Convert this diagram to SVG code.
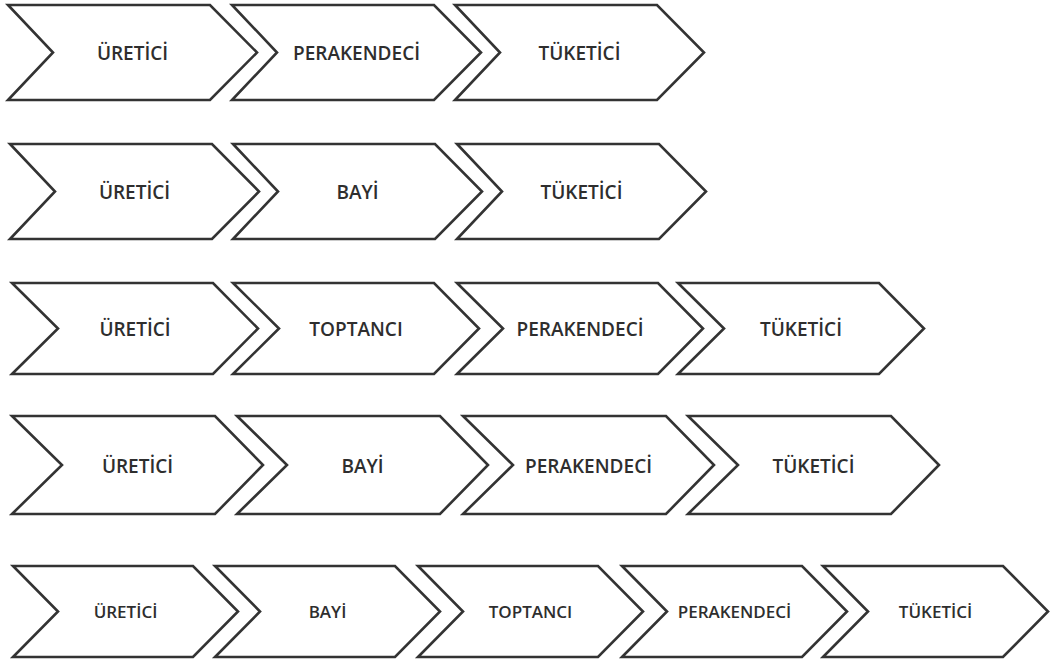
<svg xmlns="http://www.w3.org/2000/svg" width="1055" height="662" viewBox="0 0 1055 662">
<style>
.chev{fill:#fff;stroke:#333;stroke-width:2.6;stroke-linejoin:miter}
.lbl{font-family:"Open Sans","Noto Sans","Liberation Sans",sans-serif;font-weight:600;font-size:19px;fill:#2e2e2e;text-anchor:middle}
.sm{font-size:17px}
</style>
<rect width="1055" height="662" fill="#fff"/>
<g id="connectors"></g>
<!-- Row 1 -->
<g id="r1n1"><polygon class="chev" points="8,5 210,5 257,52.5 210,100 8,100 53,52.5"/><text class="lbl" x="132.5" y="60">ÜRETİCİ</text></g>
<g id="r1n2"><polygon class="chev" points="232,5 434,5 481,52.5 434,100 232,100 277,52.5"/><text class="lbl" x="356.5" y="60">PERAKENDECİ</text></g>
<g id="r1n3"><polygon class="chev" points="455,5 657,5 704,52.5 657,100 455,100 500,52.5"/><text class="lbl" x="579.5" y="60">TÜKETİCİ</text></g>
<!-- Row 2 -->
<g id="r2n1"><polygon class="chev" points="10,144 212,144 259,191.5 212,239 10,239 55,191.5"/><text class="lbl" x="134.5" y="199">ÜRETİCİ</text></g>
<g id="r2n2"><polygon class="chev" points="233,144 435,144 482,191.5 435,239 233,239 278,191.5"/><text class="lbl" x="357.5" y="199">BAYİ</text></g>
<g id="r2n3"><polygon class="chev" points="457,144 659,144 706,191.5 659,239 457,239 502,191.5"/><text class="lbl" x="581.5" y="199">TÜKETİCİ</text></g>
<!-- Row 3 -->
<g id="r3n1"><polygon class="chev" points="12,283 213,283 258,328.5 213,374 12,374 58,328.5"/><text class="lbl" x="135" y="336">ÜRETİCİ</text></g>
<g id="r3n2"><polygon class="chev" points="233,283 434,283 479,328.5 434,374 233,374 279,328.5"/><text class="lbl" x="356" y="336">TOPTANCI</text></g>
<g id="r3n3"><polygon class="chev" points="457,283 658,283 703,328.5 658,374 457,374 503,328.5"/><text class="lbl" x="580" y="336">PERAKENDECİ</text></g>
<g id="r3n4"><polygon class="chev" points="678,283 879,283 924,328.5 879,374 678,374 724,328.5"/><text class="lbl" x="801" y="336">TÜKETİCİ</text></g>
<!-- Row 4 -->
<g id="r4n1"><polygon class="chev" points="12,416 215,416 263,465 215,514 12,514 62,465"/><text class="lbl" x="137.5" y="472.5">ÜRETİCİ</text></g>
<g id="r4n2"><polygon class="chev" points="237,416 440,416 488,465 440,514 237,514 287,465"/><text class="lbl" x="362.5" y="472.5">BAYİ</text></g>
<g id="r4n3"><polygon class="chev" points="463,416 666,416 714,465 666,514 463,514 513,465"/><text class="lbl" x="588.5" y="472.5">PERAKENDECİ</text></g>
<g id="r4n4"><polygon class="chev" points="688,416 891,416 939,465 891,514 688,514 738,465"/><text class="lbl" x="813.5" y="472.5">TÜKETİCİ</text></g>
<!-- Row 5 -->
<g id="r5n1"><polygon class="chev" points="13,566 193,566 238,611.5 193,657 13,657 58,611.5"/><text class="lbl sm" x="125.5" y="618">ÜRETİCİ</text></g>
<g id="r5n2"><polygon class="chev" points="215,566 395,566 440,611.5 395,657 215,657 260,611.5"/><text class="lbl sm" x="327.5" y="618">BAYİ</text></g>
<g id="r5n3"><polygon class="chev" points="418,566 598,566 643,611.5 598,657 418,657 463,611.5"/><text class="lbl sm" x="530.5" y="618">TOPTANCI</text></g>
<g id="r5n4"><polygon class="chev" points="622,566 802,566 847,611.5 802,657 622,657 667,611.5"/><text class="lbl sm" x="734.5" y="618">PERAKENDECİ</text></g>
<g id="r5n5"><polygon class="chev" points="823,566 1003,566 1048,611.5 1003,657 823,657 868,611.5"/><text class="lbl sm" x="935.5" y="618">TÜKETİCİ</text></g>
</svg>
